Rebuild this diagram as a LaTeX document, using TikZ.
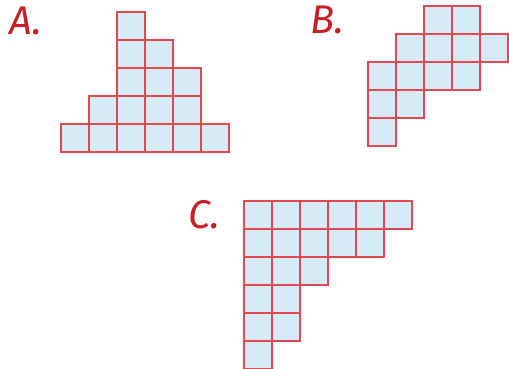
\documentclass[tikz,border=0pt]{standalone}
\usepackage{fontspec}
\newfontfamily\tagfont{Fira Sans}
\definecolor{cellFill}{HTML}{D5EAF6}
\definecolor{cellEdge}{HTML}{E5474E}
\definecolor{tagRed}{HTML}{C81E28}
\tikzset{
  cell/.style={fill=cellFill, draw=cellEdge, line width=2.8pt},
  tag/.style={text=tagRed, font=\tagfont\itshape\fontsize{40}{40}\selectfont, inner sep=0pt}
}
% one row of cells: row offset count
\newcommand{\cellrow}[3]{%
  \foreach \k in {1,...,#3} {
    \draw[cell] ({(#2+\k-1)*28},{#1*28}) rectangle +(28,28);
  }
}

\begin{document}
\begin{tikzpicture}[x=1pt, y=-1pt]
  \useasboundingbox (0,0) rectangle (509,369);

  % ---- A: pyramid ----
  \node[tag] (tagA) at (26,21) {A.};
  \begin{scope}[shift={(61,12)}]
    \foreach \r/\o/\n in {0/2/1, 1/2/2, 2/2/3, 3/1/4, 4/0/6} {
      \cellrow{\r}{\o}{\n}
    }
  \end{scope}

  % ---- B: staircase ----
  \node[tag] (tagB) at (327,20) {B.};
  \begin{scope}[shift={(368,6)}]
    \foreach \r/\o/\n in {0/2/2, 1/1/4, 2/0/4, 3/0/2, 4/0/1} {
      \cellrow{\r}{\o}{\n}
    }
  \end{scope}

  % ---- C: corner ----
  \node[tag] (tagC) at (204,215) {C.};
  \begin{scope}[shift={(244,201)}]
    \foreach \r/\o/\n in {0/0/6, 1/0/5, 2/0/3, 3/0/2, 4/0/2, 5/0/1} {
      \cellrow{\r}{\o}{\n}
    }
  \end{scope}
\end{tikzpicture}
\end{document}
